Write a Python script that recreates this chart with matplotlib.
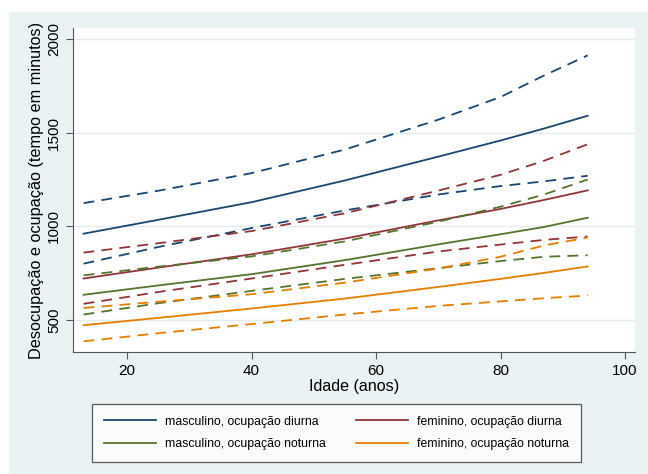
import matplotlib
matplotlib.use("Agg")
from matplotlib import pyplot as plt
from matplotlib.patches import Rectangle

plt.rcParams['font.family'] = ['Liberation Sans', 'DejaVu Sans']

idade = [13, 25, 40, 55, 70, 80, 87, 94]

# masculino, ocupacao diurna
masc_diu = [961, 1035, 1129, 1245, 1372, 1458, 1522, 1590]
masc_diu_hi = [1124, 1190, 1284, 1410, 1569, 1690, 1805, 1912]
masc_diu_lo = [801, 890, 991, 1085, 1170, 1215, 1240, 1270]
# feminino, ocupacao diurna
fem_diu = [722, 780, 851, 935, 1032, 1093, 1141, 1192]
fem_diu_hi = [860, 910, 975, 1070, 1191, 1275, 1350, 1438]
fem_diu_lo = [587, 650, 722, 795, 866, 903, 928, 946]
# masculino, ocupacao noturna
masc_not = [635, 685, 745, 820, 904, 958, 997, 1046]
masc_not_hi = [739, 785, 840, 920, 1025, 1105, 1170, 1250]
masc_not_lo = [530, 590, 656, 720, 777, 815, 838, 846]
# feminino, ocupacao noturna
fem_not = [473, 512, 562, 615, 677, 720, 752, 786]
fem_not_hi = [565, 598, 638, 700, 775, 838, 898, 941]
fem_not_lo = [387, 430, 479, 530, 576, 600, 617, 631]

labels = ['masculino, ocupação diurna', 'feminino, ocupação diurna',
          'masculino, ocupação noturna', 'feminino, ocupação noturna']
colors = ['#1a476f', '#90353b', '#55752f', '#e37e00']

series = [(masc_diu, masc_diu_hi, masc_diu_lo),
          (fem_diu, fem_diu_hi, fem_diu_lo),
          (masc_not, masc_not_hi, masc_not_lo),
          (fem_not, fem_not_hi, fem_not_lo)]

fig = plt.figure(figsize=(6.48, 4.74), dpi=100)
fig.patch.set_facecolor('white')
# stata-like graph region
fig.patches.append(Rectangle((9 / 648, 0), 1, 1 - 12 / 474, transform=fig.transFigure,
                             facecolor='#eaf2f3', edgecolor='none', zorder=-10))

ax = fig.add_axes([73 / 648, 1 - 352 / 474, (635 - 73) / 648, (352 - 28) / 474])
ax.set_facecolor('white')

handles = []
for (mid, hi, lo), c, lab in zip(series, colors, labels):
    h, = ax.plot(idade, mid, color=c, lw=1.3, label=lab)
    ax.plot(idade, hi, color=c, lw=1.3, ls=(0, (6, 4)))
    ax.plot(idade, lo, color=c, lw=1.3, ls=(0, (6, 4)))
    handles.append(h)

ax.set_xlim(11.3, 101.6)
ax.set_ylim(330, 2058)
ax.set_xticks([20, 40, 60, 80, 100])
ax.set_yticks([500, 1000, 1500, 2000])
ax.set_yticklabels(['500', '1000', '1500', '2000'], rotation=90, va='center')
ax.tick_params(labelsize=11, length=5, color='#555555', direction='out')
ax.yaxis.grid(True, color='#e3edef', lw=1)
ax.set_axisbelow(True)
for s in ['top', 'right']:
    ax.spines[s].set_visible(False)
for s in ['left', 'bottom']:
    ax.spines[s].set_color('#555555')

ax.set_xlabel('Idade (anos)', fontsize=11.6, labelpad=1)
ax.set_ylabel('Desocupação e ocupação (tempo em minutos)', fontsize=11.7, labelpad=2)

# legend fills column-wise, so reorder to get diurna on the first row
order = [0, 2, 1, 3]
leg = fig.legend(handles=[handles[i] for i in order], labels=[labels[i] for i in order],
                 ncol=2, loc='upper center',
                 bbox_to_anchor=(336.5 / 648, 1 - 404 / 474), fontsize=8.8,
                 frameon=True, fancybox=False, handlelength=4.25, columnspacing=2.45,
                 borderpad=0.95, borderaxespad=0, labelspacing=0.85, handletextpad=0.75)
leg.get_frame().set_edgecolor('#333333')
leg.get_frame().set_linewidth(0.9)

fig.savefig('out.png', dpi=100, facecolor=fig.get_facecolor())
